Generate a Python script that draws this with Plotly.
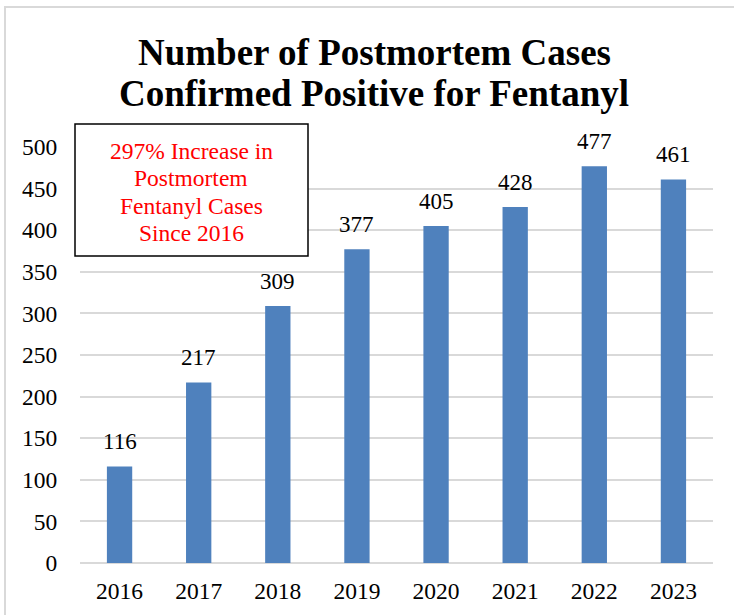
import plotly.graph_objects as go

years = ["2016", "2017", "2018", "2019", "2020", "2021", "2022", "2023"]
cases = [116, 217, 309, 377, 405, 428, 477, 461]
y_ticks = [0, 50, 100, 150, 200, 250, 300, 350, 400, 450, 500]
title_lines = ["Number of Postmortem Cases", "Confirmed Positive for Fentanyl"]
note_lines = ["297% Increase in", "Postmortem", "Fentanyl Cases", "Since 2016"]

W, H = 734, 615
L, R, T, B = 80, 21, 147, 52
pw = W - L - R
ph = H - T - B

def px_x(p):
    return (p - L) / pw

def px_y(p):
    return (H - B - p) / ph

FONT = "Liberation Serif, Times New Roman, serif"

fig = go.Figure()
fig.add_trace(go.Bar(
    x=years, y=cases,
    marker=dict(color="#4F81BD", line=dict(width=0)),
    width=0.32,
    cliponaxis=False,
))

# value labels (category index positions on the category axis)
for i, v in enumerate(cases):
    fig.add_annotation(x=i, y=v, text=str(v), showarrow=False,
                       yanchor="bottom", yshift=10,
                       font=dict(family=FONT, size=23, color="black"))

# title lines
for line, yc in zip(title_lines, [52, 93]):
    fig.add_annotation(
        xref="paper", yref="paper", x=px_x(374), y=px_y(yc),
        text="<b>" + line + "</b>",
        showarrow=False, xanchor="center", yanchor="middle",
        font=dict(family=FONT, size=37, color="black"),
    )

# note box
fig.add_shape(type="rect", xref="paper", yref="paper",
              x0=px_x(75), x1=px_x(308), y0=px_y(256), y1=px_y(124),
              line=dict(color="black", width=1.5), fillcolor="white")
for line, yc in zip(note_lines, [151, 178, 205.5, 232.5]):
    fig.add_annotation(
        xref="paper", yref="paper", x=px_x(191), y=px_y(yc),
        text=line, showarrow=False, xanchor="center", yanchor="middle",
        font=dict(family=FONT, size=23.5, color="red"),
    )

# outer chart border
fig.add_shape(type="rect", xref="paper", yref="paper",
              x0=px_x(5), x1=px_x(745), y0=px_y(630), y1=px_y(7),
              line=dict(color="#D9D9D9", width=2), layer="below")

fig.update_layout(
    width=W, height=H,
    margin=dict(l=L, r=R, t=T, b=B, autoexpand=False),
    paper_bgcolor="white", plot_bgcolor="white",
    showlegend=False,
    font=dict(family=FONT, size=23.5, color="black"),
    xaxis=dict(type="category", categoryorder="array", categoryarray=years,
               range=[-0.5, len(years) - 0.5], automargin=False,
               showgrid=False, showline=False,
               ticks="outside", ticklen=7,
               tickcolor="rgba(0,0,0,0)", tickfont=dict(size=23.5)),
    yaxis=dict(range=[0, 500], tickvals=y_ticks, showgrid=True,
               automargin=False,
               gridcolor="#D9D9D9", gridwidth=1.5, zeroline=True,
               zerolinecolor="#D9D9D9", zerolinewidth=1.5, showline=False,
               ticks="outside", ticklen=17, tickcolor="rgba(0,0,0,0)",
               tickfont=dict(size=23.5)),
)

fig.write_html("out.html",
               config={"displayModeBar": False},
               post_script="document.body.style.margin='0';")
